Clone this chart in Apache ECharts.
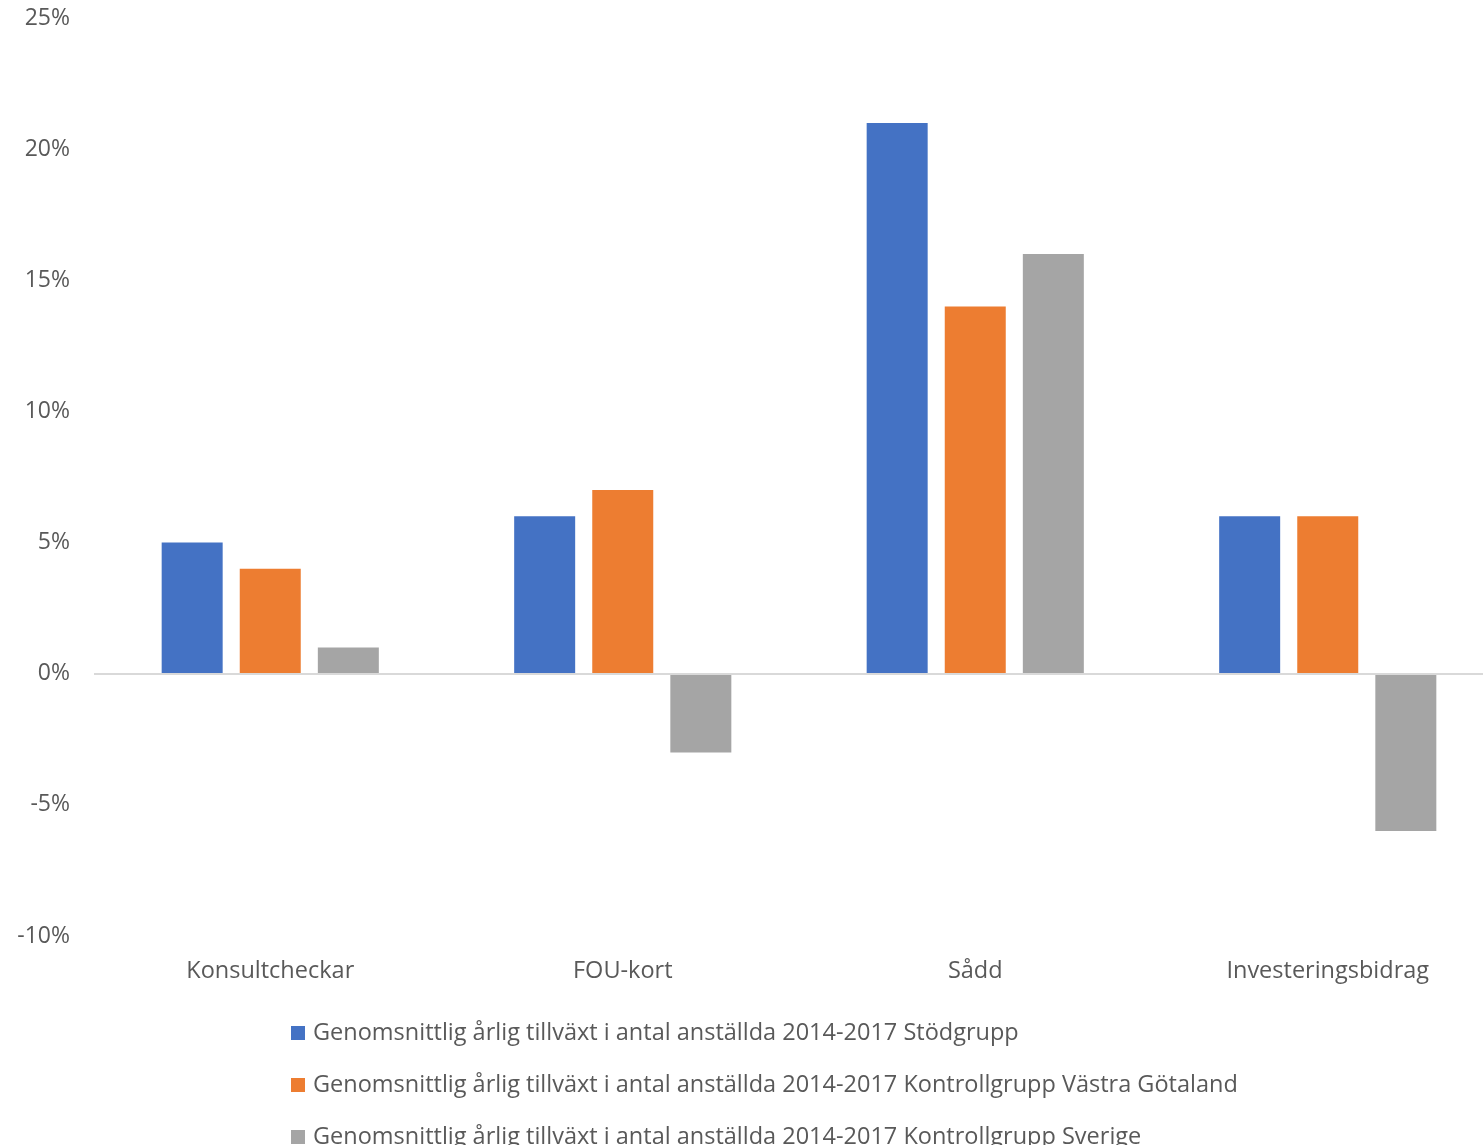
<!DOCTYPE html>
<html><head><meta charset="utf-8">
<script src="https://cdn.jsdelivr.net/npm/echarts@6/dist/echarts.min.js"></script>
<style>html,body{margin:0;padding:0;background:#fff;overflow:hidden;width:1483px;height:1145px;}#c{width:1504px;height:1145px;}</style>
</head><body><div id="c"></div>
<script>
var categories = ['Konsultcheckar', 'FOU-kort', 'Sådd', 'Investeringsbidrag'];
var seriesNames = [
  'Genomsnittlig årlig tillväxt i antal anställda 2014-2017 Stödgrupp',
  'Genomsnittlig årlig tillväxt i antal anställda 2014-2017 Kontrollgrupp Västra Götaland',
  'Genomsnittlig årlig tillväxt i antal anställda 2014-2017 Kontrollgrupp Sverige'
];
var stodgrupp = [5, 6, 21, 6];
var kontrollVG = [4, 7, 14, 6];
var kontrollSverige = [1, -3, 16, -6];
var colors = ['#4472C4', '#ED7D31', '#A5A5A5'];
var font = '"Open Sans", "Liberation Sans", sans-serif';

var chart = echarts.init(document.getElementById('c'), null, {renderer: 'canvas'});
var data = [stodgrupp, kontrollVG, kontrollSverige];
chart.setOption({
  animation: false,
  backgroundColor: '#fff',
  grid: {left: 94, right: 0, top: 18, bottom: 209, containLabel: false},
  legend: {
    orient: 'vertical', left: 286, top: 1016, height: 400, itemGap: 28,
    itemWidth: 14, itemHeight: 14, icon: 'rect',
    textStyle: {color: '#595959', fontSize: 23.5, fontFamily: font, padding: [0, 0, 0, 3]},
    data: seriesNames
  },
  xAxis: {
    type: 'category', data: categories,
    axisLine: {show: false}, axisTick: {show: false},
    axisLabel: {color: '#595959', fontSize: 23.5, fontFamily: font, margin: 23},
    position: 'bottom'
  },
  yAxis: {
    type: 'value', min: -10, max: 25, interval: 5,
    axisLine: {show: false}, axisTick: {show: false},
    splitLine: {show: false},
    axisLabel: {color: '#595959', fontSize: 23, fontFamily: font, margin: 24,
      formatter: function (v) { return v + '%'; }}
  },
  series: data.map(function (d, i) {
    var s = {
      name: seriesNames[i], type: 'bar', data: d,
      barWidth: 61, barGap: '28%',
      itemStyle: {color: colors[i]}
    };
    if (i === 0) {
      s.markLine = {silent: true, symbol: 'none', label: {show: false},
        lineStyle: {color: '#D9D9D9', width: 2, type: 'solid'},
        data: [{yAxis: 0}]};
    }
    return s;
  })
});
</script></body></html>
